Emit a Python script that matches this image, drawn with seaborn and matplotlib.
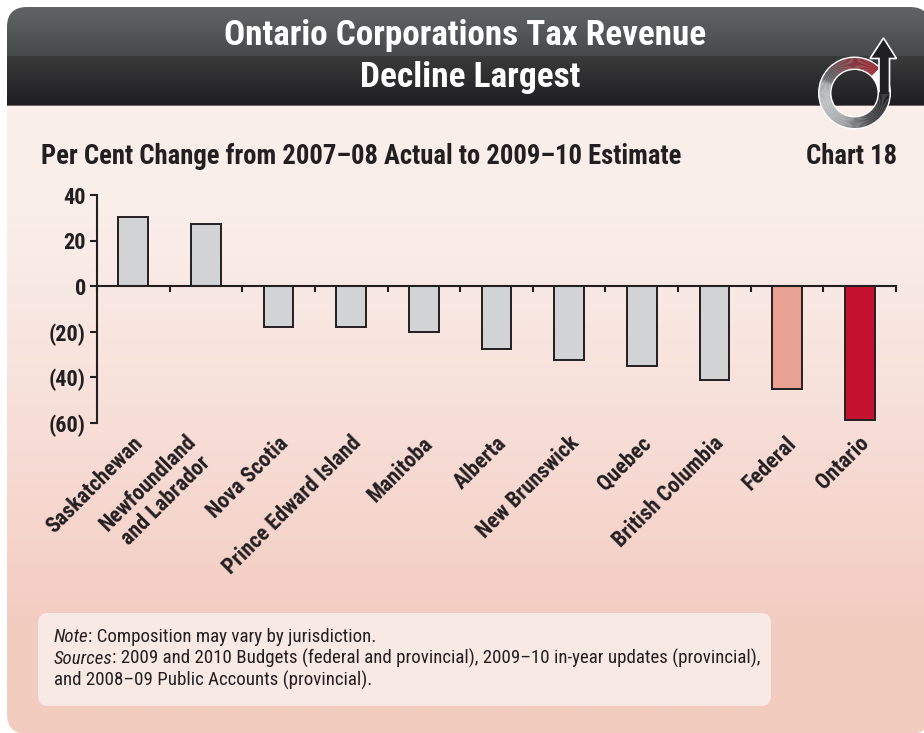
import numpy as np
import pandas as pd
import matplotlib
matplotlib.use('Agg')
import matplotlib.pyplot as plt
import seaborn as sns
from matplotlib.colors import LinearSegmentedColormap, to_rgb
from matplotlib.patches import FancyBboxPatch, Wedge, Polygon, Rectangle

regions = ['Saskatchewan', 'Newfoundland\nand Labrador', 'Nova Scotia', 'Prince Edward Island', 'Manitoba',
           'Alberta', 'New Brunswick', 'Quebec', 'British Columbia', 'Federal', 'Ontario']
change = [30.4, 27.5, -18, -18, -20, -27.5, -32.5, -35, -41, -45, -58.5]
bar_colors = ['#d1d3d4'] * 9 + ['#e8a193', '#c41230']
y_ticks = [40, 20, 0, -20, -40, -60]
y_labels = ['40', '20', '0', '(20)', '(40)', '(60)']

W, H = 924, 733
sns.set_theme(style='white')
plt.rcParams['font.family'] = ['Roboto Condensed', 'Liberation Sans', 'DejaVu Sans']
ink = '#231f20'

fig = plt.figure(figsize=(W / 100, H / 100), dpi=100, facecolor='white')

# page background, in pixel coordinates
bg = fig.add_axes([0, 0, 1, 1], zorder=0)
panel = FancyBboxPatch((7, 7), 923, 727, boxstyle='round,pad=0,rounding_size=20', fc='none', ec='none')
bg.add_patch(panel)
body = np.array([[0.98, 0.935, 0.92], [0.97, 0.875, 0.85], [0.955, 0.80, 0.755]])
im = bg.imshow(body[:, None, :], extent=[0, W, H, 105], aspect='auto', interpolation='bilinear', zorder=1)
im.set_clip_path(panel)
# header has a soft step halfway down
stops = [0, 48, 49, 97]
shades = [to_rgb(c) for c in ['#626365', '#48494b', '#3a3a3b', '#1f1f21']]
head = np.array([[np.interp(r, stops, [s[k] for s in shades]) for k in range(3)] for r in range(98)])
im2 = bg.imshow(head[:, None, :], extent=[0, W, 105, 7], aspect='auto', interpolation='nearest', zorder=2)
im2.set_clip_path(panel)
bg.add_patch(Rectangle((7, 104.6), W, 1, fc='#6f6462', ec='none', zorder=2))
bg.set_xlim(0, W)
bg.set_ylim(H, 0)
bg.axis('off')

bg.text(465, 45, 'Ontario Corporations Tax Revenue', color='white', fontsize=25.3, fontweight='bold', ha='center', va='baseline', zorder=5)
bg.text(470, 87, 'Decline Largest', color='white', fontsize=25.5, fontweight='bold', ha='center', va='baseline', zorder=5)
bg.text(41, 163.5, 'Per Cent Change from 2007–08 Actual to 2009–10 Estimate', color=ink, fontsize=19.2, fontweight='bold', va='baseline', zorder=5)
bg.text(897, 163.5, 'Chart 18', color=ink, fontsize=19.2, fontweight='bold', va='baseline', ha='right', zorder=5)

# logo
cx, cy = 854.5, 93
ring = LinearSegmentedColormap.from_list('ring', [(0, '#98262f'), (0.2, '#7a4044'), (0.3, '#58585a'), (0.345, '#6a6b6d'),
                                                  (0.37, '#a6a8ab'), (0.49, '#bcbec0'), (0.65, '#a0a2a5'),
                                                  (0.81, '#444547'), (1, '#1f1f21')])
bg.add_patch(Wedge((cx, cy), 36.5, 0, 360, width=13.5, fc='white', ec='none', zorder=3))
for a in np.arange(45, 360, 2):
    z = 5 if a >= 320 else 3
    bg.add_patch(Wedge((cx, cy), 35, -(a + 2.4), -a, width=10.5, fc=ring((a - 45) / 315), ec='none', zorder=z))
bg.add_patch(Polygon([(883.5, 38), (870, 58.5), (879, 58.5), (879, 95), (889.5, 95), (889.5, 58.5), (896.5, 58.5)],
                     fc='#1f1f21', ec='white', lw=1.2, zorder=4))

box = FancyBboxPatch((38, 613), 733, 93, boxstyle='round,pad=0,rounding_size=10', fc='#f9e9e5', ec='none', zorder=3)
bg.add_patch(box)


# italic lead-in then regular text on one baseline
def note_line(y, lead, rest):
    r = fig.canvas.get_renderer()
    x = 53.5
    if lead:
        t = bg.text(x, y, lead, style='italic', color=ink, fontsize=13.6, va='baseline', zorder=5)
        x = x + t.get_window_extent(r).width
    bg.text(x, y, rest, color=ink, fontsize=13.6, va='baseline', zorder=5)


note_line(642.5, 'Note', ': Composition may vary by jurisdiction.')
note_line(664, 'Sources', ': 2009 and 2010 Budgets (federal and provincial), 2009–10 in-year updates (provincial),')
note_line(685.5, '', 'and 2008–09 Public Accounts (provincial).')

# chart
ax = fig.add_axes([97 / W, 1 - 423 / H, 799 / W, (423 - 195) / H], zorder=2)
ax.patch.set_alpha(0)
df = pd.DataFrame({'region': regions, 'change': change})
sns.barplot(data=df, x='region', y='change', hue='region', palette=bar_colors, legend=False, width=0.41,
            edgecolor=ink, linewidth=1.4, saturation=1, ax=ax)
ax.set_ylim(-60, 40)
ax.set_xlim(-0.5, 10.5)
ax.set_yticks(y_ticks)
ax.set_yticklabels(y_labels, fontsize=16, fontweight='bold', color=ink)
ax.set_xticks(np.arange(-0.5, 11))
ax.set_xticklabels([])
ax.set_xlabel('')
ax.set_ylabel('')
sns.despine(ax=ax)
ax.spines['bottom'].set_position(('data', 0))
ax.spines['bottom'].set_zorder(5)
for s in ['left', 'bottom']:
    ax.spines[s].set_linewidth(1.5)
    ax.spines[s].set_color(ink)
ax.tick_params(axis='y', left=True, length=5, width=1.5, color=ink, pad=3)
ax.tick_params(axis='x', bottom=True, direction='out', length=4.5, width=1.5, color=ink)

for i, r in enumerate(regions):
    two_lines = '\n' in r
    ax.annotate(r, (i, -60), xytext=(-3, -17.6) if two_lines else (4.6, -12.2), textcoords='offset points',
                rotation=45, ha='right', va='center', rotation_mode='anchor', fontsize=15.8, fontweight='bold',
                color=ink, multialignment='center', annotation_clip=False, linespacing=1.2)

fig.savefig('out.png', dpi=100)
